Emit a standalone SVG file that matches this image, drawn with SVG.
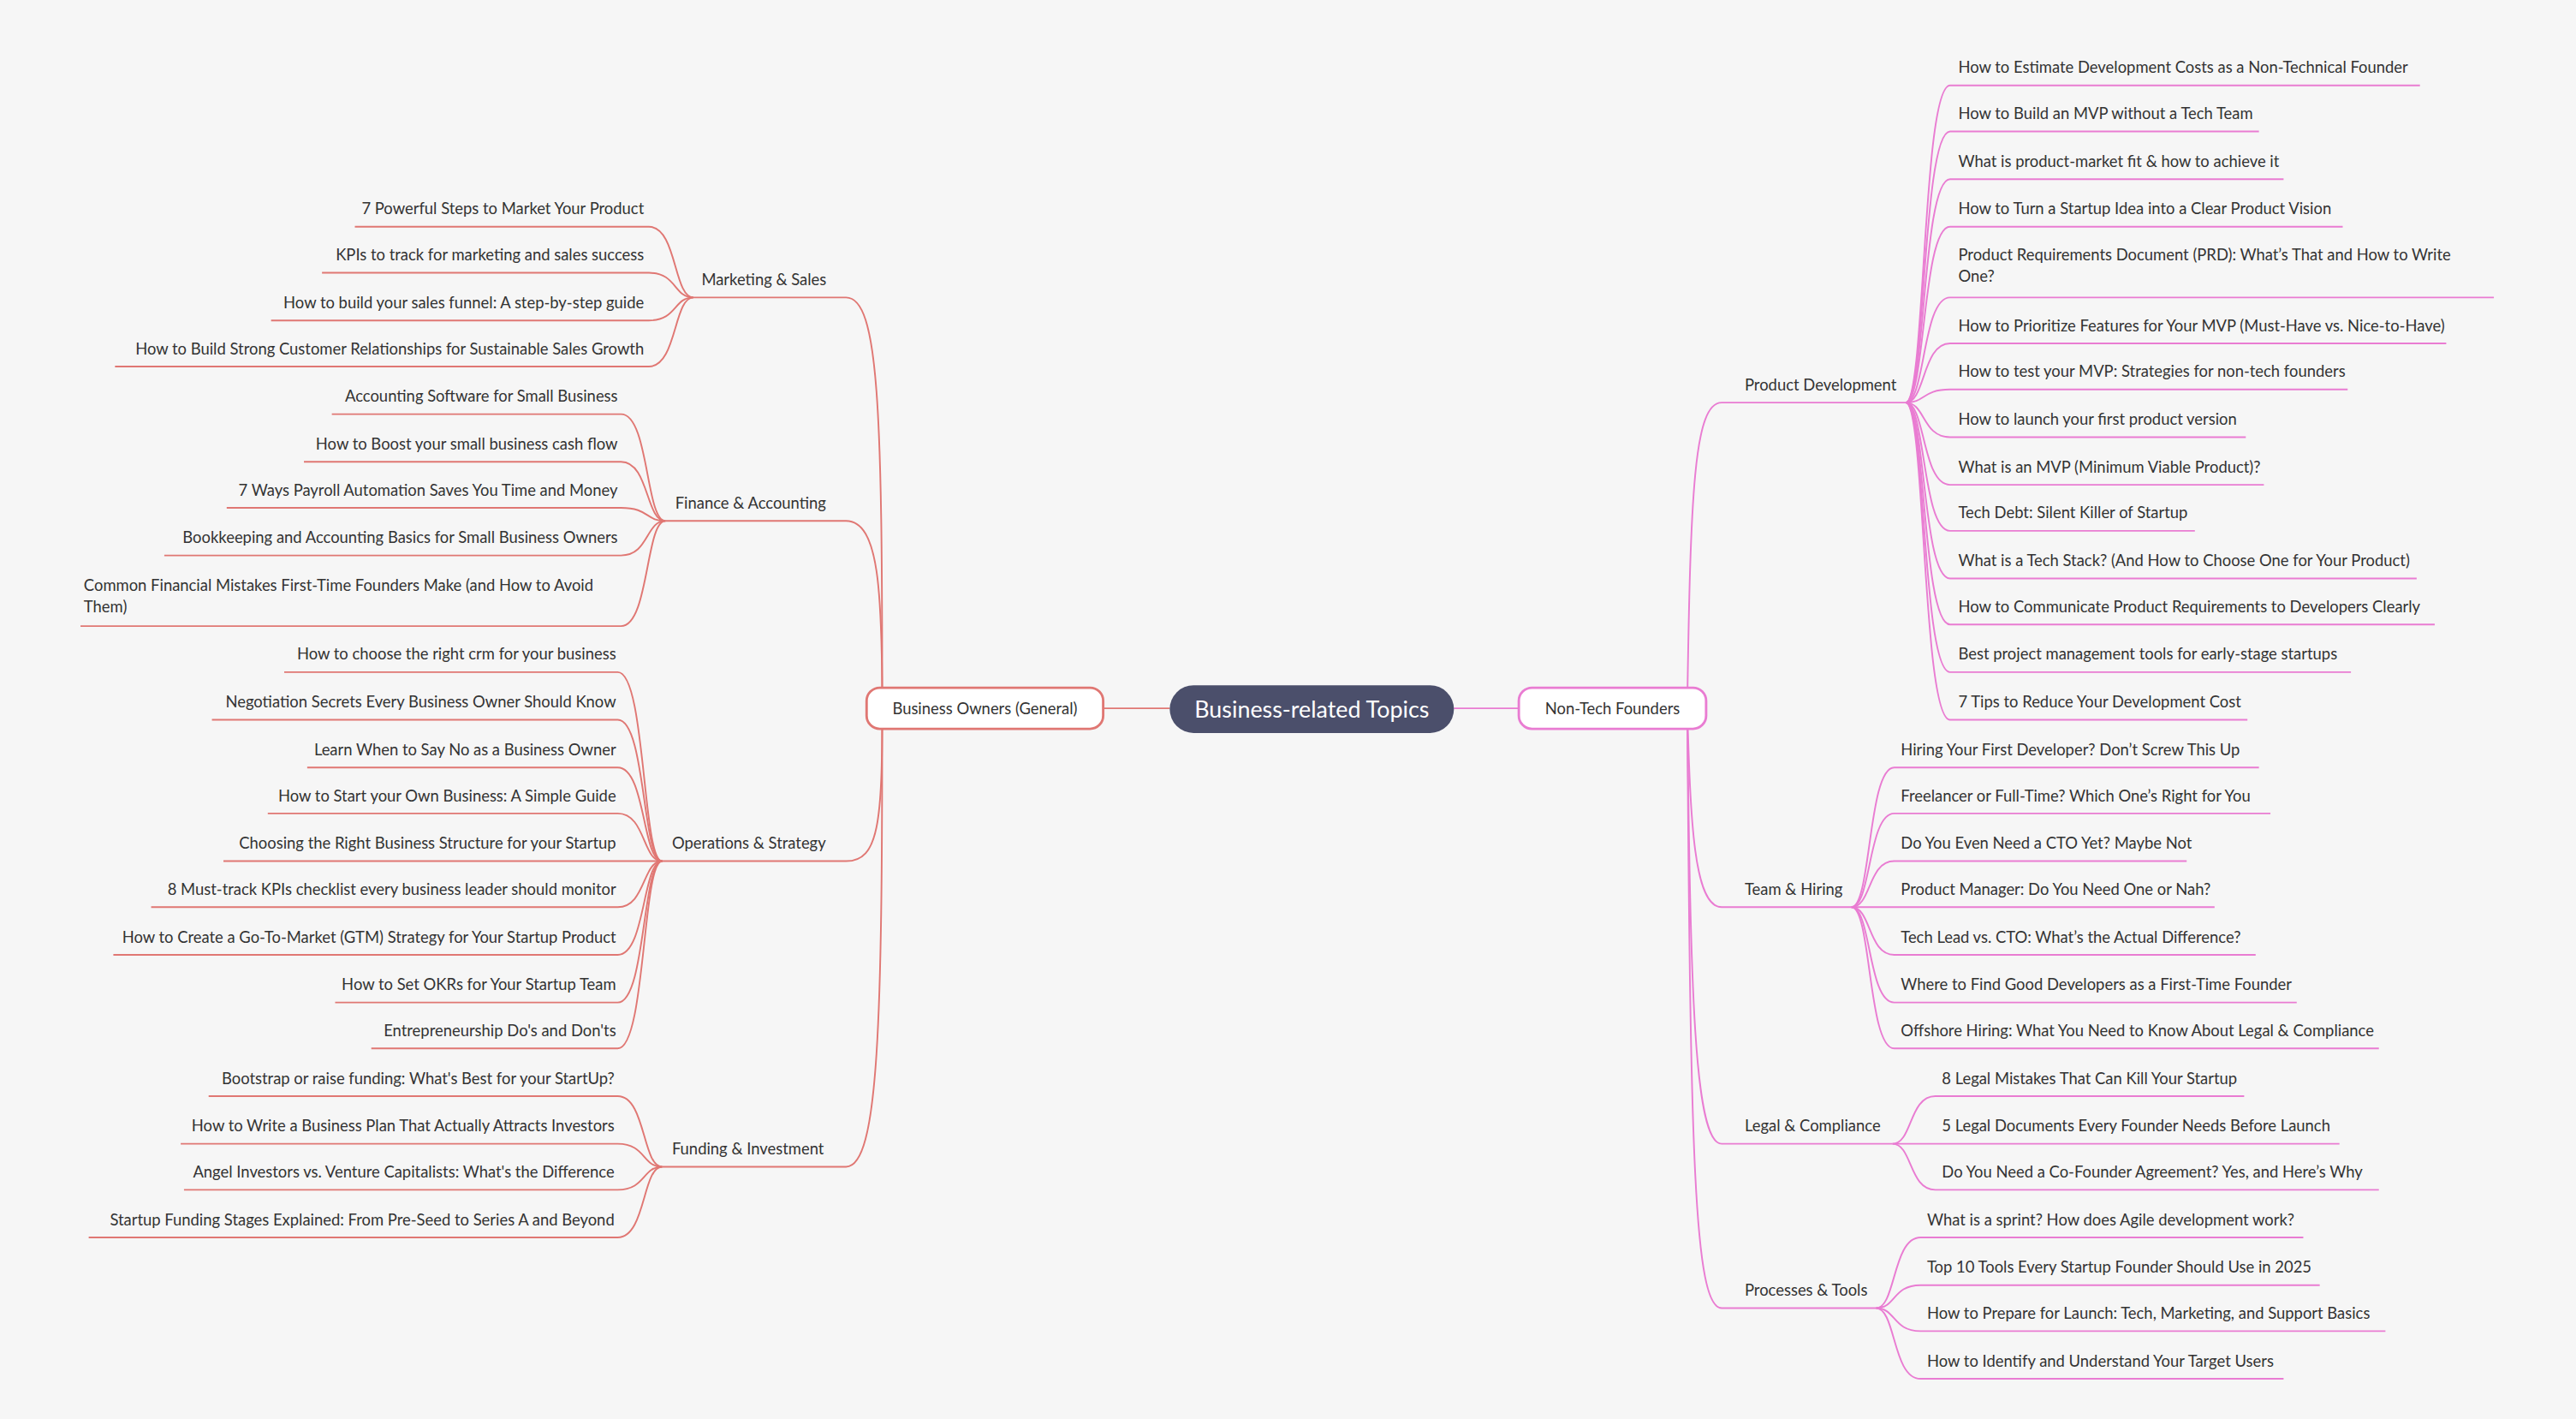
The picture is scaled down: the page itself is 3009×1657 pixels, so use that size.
<svg xmlns="http://www.w3.org/2000/svg" width="3009" height="1657" viewBox="0 0 3009 1657">
<style>
text{font-family:Lato,"Source Sans Pro","Noto Sans",sans-serif;fill:#333;font-size:9.6px}
.l{text-anchor:end}
.r path,.r line{stroke:#e97cd2}
.b path,.b line{stroke:#e07773}
#connectors path{fill:none;stroke-width:1}
</style>
<rect width="3009" height="1657" fill="#f6f6f6"/>
<g transform="scale(1.91901)">
<g id="connectors">
<g class="b">
<path d="M672,431 H712" stroke-width="2.6"/>
<path d="M537,431 C537,250 535,181 515,181 H422"/>
<path d="M537,431 C537,360 535,317 515,317 H405"/>
<path d="M537,431 C537,500 535,524 515,524 H403"/>
<path d="M537,431 C537,620 535,710 515,710 H403"/>
<path d="M422,181 C410,181 412,138 395,138 H216"/>
<path d="M422,181 C410,181 412,166 395,166 H196"/>
<path d="M422,181 C410,181 412,195 395,195 H165"/>
<path d="M422,181 C410,181 412,223 395,223 H70"/>
<path d="M405,317 C393,317 395,252 378,252 H202"/>
<path d="M405,317 C393,317 395,281 378,281 H185"/>
<path d="M405,317 C393,317 395,309 378,309 H138"/>
<path d="M405,317 C393,317 395,338 378,338 H100"/>
<path d="M405,317 C393,317 395,381 378,381 H49"/>
<path d="M403,524 C391,524 393,409 376,409 H173"/>
<path d="M403,524 C391,524 393,438 376,438 H129"/>
<path d="M403,524 C391,524 393,467 376,467 H187"/>
<path d="M403,524 C391,524 393,495 376,495 H163"/>
<path d="M403,524 C391,524 393,524 376,524 H136"/>
<path d="M403,524 C391,524 393,552 376,552 H92"/>
<path d="M403,524 C391,524 393,581 376,581 H69"/>
<path d="M403,524 C391,524 393,610 376,610 H204"/>
<path d="M403,524 C391,524 393,638 376,638 H226"/>
<path d="M403,710 C391,710 393,667 376,667 H127"/>
<path d="M403,710 C391,710 393,696 376,696 H110"/>
<path d="M403,710 C391,710 393,724 376,724 H112"/>
<path d="M403,710 C391,710 393,753 376,753 H54"/>
</g>
<g class="r">
<path d="M885,431 H924" stroke-width="2.6"/>
<path d="M1027,431 C1029,300 1031,245 1048,245 H1160"/>
<path d="M1027,431 C1029,500 1031,552 1048,552 H1127"/>
<path d="M1027,431 C1029,600 1031,696 1048,696 H1152"/>
<path d="M1027,431 C1029,700 1031,796 1048,796 H1142"/>
<path d="M1160,245 C1172,245 1170,52 1187,52 H1473"/>
<path d="M1160,245 C1172,245 1170,80 1187,80 H1375"/>
<path d="M1160,245 C1172,245 1170,109 1187,109 H1390"/>
<path d="M1160,245 C1172,245 1170,138 1187,138 H1426"/>
<path d="M1160,245 C1172,245 1170,181 1187,181 H1518"/>
<path d="M1160,245 C1172,245 1170,209 1187,209 H1489"/>
<path d="M1160,245 C1172,245 1170,237 1187,237 H1429"/>
<path d="M1160,245 C1172,245 1170,266 1187,266 H1367"/>
<path d="M1160,245 C1172,245 1170,295 1187,295 H1378"/>
<path d="M1160,245 C1172,245 1170,323 1187,323 H1336"/>
<path d="M1160,245 C1172,245 1170,352 1187,352 H1471"/>
<path d="M1160,245 C1172,245 1170,380 1187,380 H1482"/>
<path d="M1160,245 C1172,245 1170,409 1187,409 H1431"/>
<path d="M1160,245 C1172,245 1170,438 1187,438 H1368"/>
<path d="M1127,552 C1139,552 1137,467 1153,467 H1375"/>
<path d="M1127,552 C1139,552 1137,495 1153,495 H1382"/>
<path d="M1127,552 C1139,552 1137,524 1153,524 H1331"/>
<path d="M1127,552 C1139,552 1137,552 1153,552 H1348"/>
<path d="M1127,552 C1139,552 1137,581 1153,581 H1373"/>
<path d="M1127,552 C1139,552 1137,610 1153,610 H1398"/>
<path d="M1127,552 C1139,552 1137,638 1153,638 H1448"/>
<path d="M1152,696 C1164,696 1162,667 1178,667 H1366"/>
<path d="M1152,696 C1164,696 1162,696 1178,696 H1424"/>
<path d="M1152,696 C1164,696 1162,724 1178,724 H1448"/>
<path d="M1142,796 C1154,796 1152,753 1169,753 H1402"/>
<path d="M1142,796 C1154,796 1152,782 1169,782 H1412"/>
<path d="M1142,796 C1154,796 1152,810 1169,810 H1452"/>
<path d="M1142,796 C1154,796 1152,839 1169,839 H1390"/>
</g>
</g>
<g id="root"><rect x="712" y="417" width="173" height="29" rx="14.5" fill="#4b4f6b"/><text x="798.5" y="436.5" text-anchor="middle" style="fill:#fff;font-size:14px">Business-related Topics</text></g>
<g id="non-tech"><rect x="924.5" y="418.5" width="114" height="25" rx="8" fill="#fff" stroke="#e97cd2" stroke-width="1.5"/><text x="981.5" y="434.5" text-anchor="middle">Non-Tech Founders</text></g>
<g id="business-owners"><rect x="527.5" y="418.5" width="144" height="25" rx="8" fill="#fff" stroke="#e07773" stroke-width="1.5"/><text x="599.5" y="434.5" text-anchor="middle">Business Owners (General)</text></g>
<g id="left-topics">
<text x="427" y="173.5">Marketing &amp; Sales</text>
<text x="411" y="309.5">Finance &amp; Accounting</text>
<text x="409" y="516.5">Operations &amp; Strategy</text>
<text x="409" y="702.5">Funding &amp; Investment</text>
<text class="l" x="392" y="130.5">7 Powerful Steps to Market Your Product</text>
<text class="l" x="392" y="158.5">KPIs to track for marketing and sales success</text>
<text class="l" x="392" y="187.5">How to build your sales funnel: A step-by-step guide</text>
<text class="l" x="392" y="215.5">How to Build Strong Customer Relationships for Sustainable Sales Growth</text>
<text class="l" x="376" y="244.5">Accounting Software for Small Business</text>
<text class="l" x="376" y="273.5">How to Boost your small business cash flow</text>
<text class="l" x="376" y="301.5">7 Ways Payroll Automation Saves You Time and Money</text>
<text class="l" x="376" y="330.5">Bookkeeping and Accounting Basics for Small Business Owners</text>
<text x="51" y="359.5">Common Financial Mistakes First-Time Founders Make (and How to Avoid</text>
<text x="51" y="372.5">Them)</text>
<text class="l" x="375" y="401.5">How to choose the right crm for your business</text>
<text class="l" x="375" y="430.5">Negotiation Secrets Every Business Owner Should Know</text>
<text class="l" x="375" y="459.5">Learn When to Say No as a Business Owner</text>
<text class="l" x="375" y="487.5">How to Start your Own Business: A Simple Guide</text>
<text class="l" x="375" y="516.5">Choosing the Right Business Structure for your Startup</text>
<text class="l" x="375" y="544.5">8 Must-track KPIs checklist every business leader should monitor</text>
<text class="l" x="375" y="573.5">How to Create a Go-To-Market (GTM) Strategy for Your Startup Product</text>
<text class="l" x="375" y="602.5">How to Set OKRs for Your Startup Team</text>
<text class="l" x="375" y="630.5">Entrepreneurship Do's and Don'ts</text>
<text class="l" x="374" y="659.5">Bootstrap or raise funding: What's Best for your StartUp?</text>
<text class="l" x="374" y="688.5">How to Write a Business Plan That Actually Attracts Investors</text>
<text class="l" x="374" y="716.5">Angel Investors vs. Venture Capitalists: What's the Difference</text>
<text class="l" x="374" y="745.5">Startup Funding Stages Explained: From Pre-Seed to Series A and Beyond</text>
</g>
<g id="right-topics">
<text x="1062" y="237.5">Product Development</text>
<text x="1062" y="544.5">Team &amp; Hiring</text>
<text x="1062" y="688.5">Legal &amp; Compliance</text>
<text x="1062" y="788.5">Processes &amp; Tools</text>
<text x="1192" y="44.5">How to Estimate Development Costs as a Non-Technical Founder</text>
<text x="1192" y="72.5">How to Build an MVP without a Tech Team</text>
<text x="1192" y="101.5">What is product-market fit &amp; how to achieve it</text>
<text x="1192" y="130.5">How to Turn a Startup Idea into a Clear Product Vision</text>
<text x="1192" y="158.5">Product Requirements Document (PRD): What’s That and How to Write</text>
<text x="1192" y="171.5">One?</text>
<text x="1192" y="201.5">How to Prioritize Features for Your MVP (Must-Have vs. Nice-to-Have)</text>
<text x="1192" y="229.5">How to test your MVP: Strategies for non-tech founders</text>
<text x="1192" y="258.5">How to launch your first product version</text>
<text x="1192" y="287.5">What is an MVP (Minimum Viable Product)?</text>
<text x="1192" y="315.5">Tech Debt: Silent Killer of Startup</text>
<text x="1192" y="344.5">What is a Tech Stack? (And How to Choose One for Your Product)</text>
<text x="1192" y="372.5">How to Communicate Product Requirements to Developers Clearly</text>
<text x="1192" y="401.5">Best project management tools for early-stage startups</text>
<text x="1192" y="430.5">7 Tips to Reduce Your Development Cost</text>
<text x="1157" y="459.5">Hiring Your First Developer? Don’t Screw This Up</text>
<text x="1157" y="487.5">Freelancer or Full-Time? Which One’s Right for You</text>
<text x="1157" y="516.5">Do You Even Need a CTO Yet? Maybe Not</text>
<text x="1157" y="544.5">Product Manager: Do You Need One or Nah?</text>
<text x="1157" y="573.5">Tech Lead vs. CTO: What’s the Actual Difference?</text>
<text x="1157" y="602.5">Where to Find Good Developers as a First-Time Founder</text>
<text x="1157" y="630.5">Offshore Hiring: What You Need to Know About Legal &amp; Compliance</text>
<text x="1182" y="659.5">8 Legal Mistakes That Can Kill Your Startup</text>
<text x="1182" y="688.5">5 Legal Documents Every Founder Needs Before Launch</text>
<text x="1182" y="716.5">Do You Need a Co-Founder Agreement? Yes, and Here’s Why</text>
<text x="1173" y="745.5">What is a sprint? How does Agile development work?</text>
<text x="1173" y="774.5">Top 10 Tools Every Startup Founder Should Use in 2025</text>
<text x="1173" y="802.5">How to Prepare for Launch: Tech, Marketing, and Support Basics</text>
<text x="1173" y="831.5">How to Identify and Understand Your Target Users</text>
</g>
</g>
</svg>
